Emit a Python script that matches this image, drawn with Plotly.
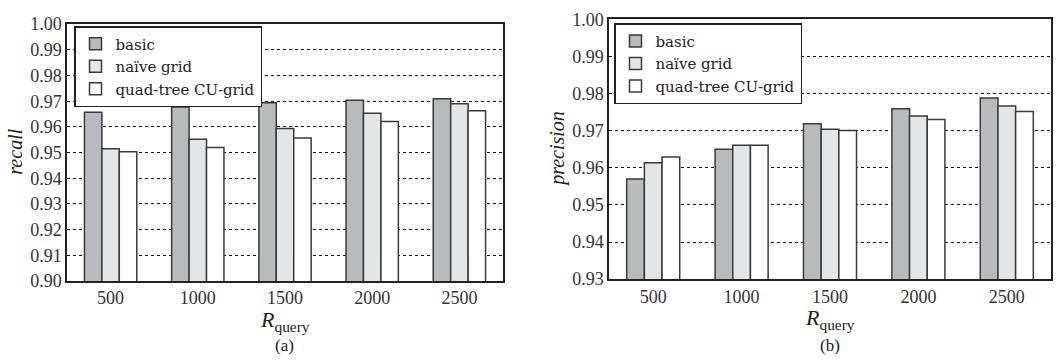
import plotly.graph_objects as go

categories = ["500", "1000", "1500", "2000", "2500"]
series_names = ["basic", "naïve grid", "quad-tree CU-grid"]

recall_basic = [0.9657, 0.9678, 0.9694, 0.9704, 0.9710]
recall_naive = [0.9515, 0.9552, 0.9594, 0.9653, 0.9690]
recall_quad = [0.9503, 0.9520, 0.9557, 0.9621, 0.9663]

precision_basic = [0.9570, 0.9650, 0.9719, 0.9759, 0.9788]
precision_naive = [0.9614, 0.9661, 0.9704, 0.9740, 0.9767]
precision_quad = [0.9629, 0.9661, 0.9701, 0.9730, 0.9752]

recall_ticks = [0.90, 0.91, 0.92, 0.93, 0.94, 0.95, 0.96, 0.97, 0.98, 0.99, 1.00]
precision_ticks = [0.93, 0.94, 0.95, 0.96, 0.97, 0.98, 0.99, 1.00]

colors = ["#b9babe", "#e4e5e7", "#ffffff"]
FONT = "'Liberation Serif', 'DejaVu Serif', serif"
LEGEND_FONT = "'DejaVu Serif', serif"
W, H = 1061, 360

fig = go.Figure()

for name, vals, col in zip(series_names, [recall_basic, recall_naive, recall_quad], colors):
    fig.add_trace(go.Bar(x=categories, y=vals, name=name, xaxis="x", yaxis="y",
                         marker=dict(color=col, line=dict(color="#3a3a3a", width=1.5)),
                         legend="legend"))
for name, vals, col in zip(series_names, [precision_basic, precision_naive, precision_quad], colors):
    fig.add_trace(go.Bar(x=categories, y=vals, name=name, xaxis="x2", yaxis="y2",
                         marker=dict(color=col, line=dict(color="#3a3a3a", width=1.5)),
                         legend="legend2"))

def px_x(p):
    return p / W

def px_y(p):
    return 1 - p / H

axis_common = dict(showline=True, linecolor="#222", linewidth=1.5, mirror=True, ticks="",
                   tickfont=dict(family=FONT, size=18, color="#333"), zeroline=False)

legend_common = dict(xanchor="left", yanchor="top", bgcolor="white", bordercolor="#222",
                     borderwidth=1.5, font=dict(family=LEGEND_FONT, size=15, color="#222"),
                     tracegroupgap=0, itemwidth=30)

fig.update_layout(
    width=W, height=H, margin=dict(l=0, r=0, t=0, b=0),
    paper_bgcolor="white", plot_bgcolor="white",
    barmode="group", bargap=0.4, bargroupgap=0,
    font=dict(family=FONT, color="#222"),
    xaxis=dict(domain=[px_x(67), px_x(503)], anchor="y", showgrid=False,
               range=[-0.5, 4.5], **axis_common),
    yaxis=dict(domain=[px_y(287), px_y(15)], anchor="x", range=[0.90, 1.00],
               tickvals=recall_ticks, ticktext=[f"{v:.2f}" for v in recall_ticks],
               showgrid=True, gridcolor="#111", gridwidth=1, griddash="dot", **axis_common),
    xaxis2=dict(domain=[px_x(609), px_x(1051)], anchor="y2", showgrid=False,
                range=[-0.5, 4.5], **axis_common),
    yaxis2=dict(domain=[px_y(285), px_y(10)], anchor="x2", range=[0.93, 1.00],
                tickvals=precision_ticks, ticktext=[f"{v:.2f}" for v in precision_ticks],
                showgrid=True, gridcolor="#111", gridwidth=1, griddash="dot", **axis_common),
    legend=dict(x=px_x(74), y=px_y(17), **legend_common),
    legend2=dict(x=px_x(614), y=px_y(14), **legend_common),
    showlegend=True,
)

annots = [
    dict(text="<i>recall</i>", x=px_x(15), y=px_y(150), textangle=-90, size=20),
    dict(text="<i>precision</i>", x=px_x(558), y=px_y(147), textangle=-90, size=20),
    dict(text="<i>R</i><sub>query</sub>", x=px_x(285), y=px_y(329), textangle=0, size=22),
    dict(text="<i>R</i><sub>query</sub>", x=px_x(830), y=px_y(327), textangle=0, size=22),
    dict(text="(a)", x=px_x(284), y=px_y(355), textangle=0, size=17),
    dict(text="(b)", x=px_x(830), y=px_y(355), textangle=0, size=17),
]
for a in annots:
    fig.add_annotation(text=a["text"], x=a["x"], y=a["y"], xref="paper", yref="paper",
                       showarrow=False, textangle=a["textangle"], xanchor="center", yanchor="middle",
                       font=dict(family=FONT, size=a["size"], color="#222"))

fig.write_html("out.html")
